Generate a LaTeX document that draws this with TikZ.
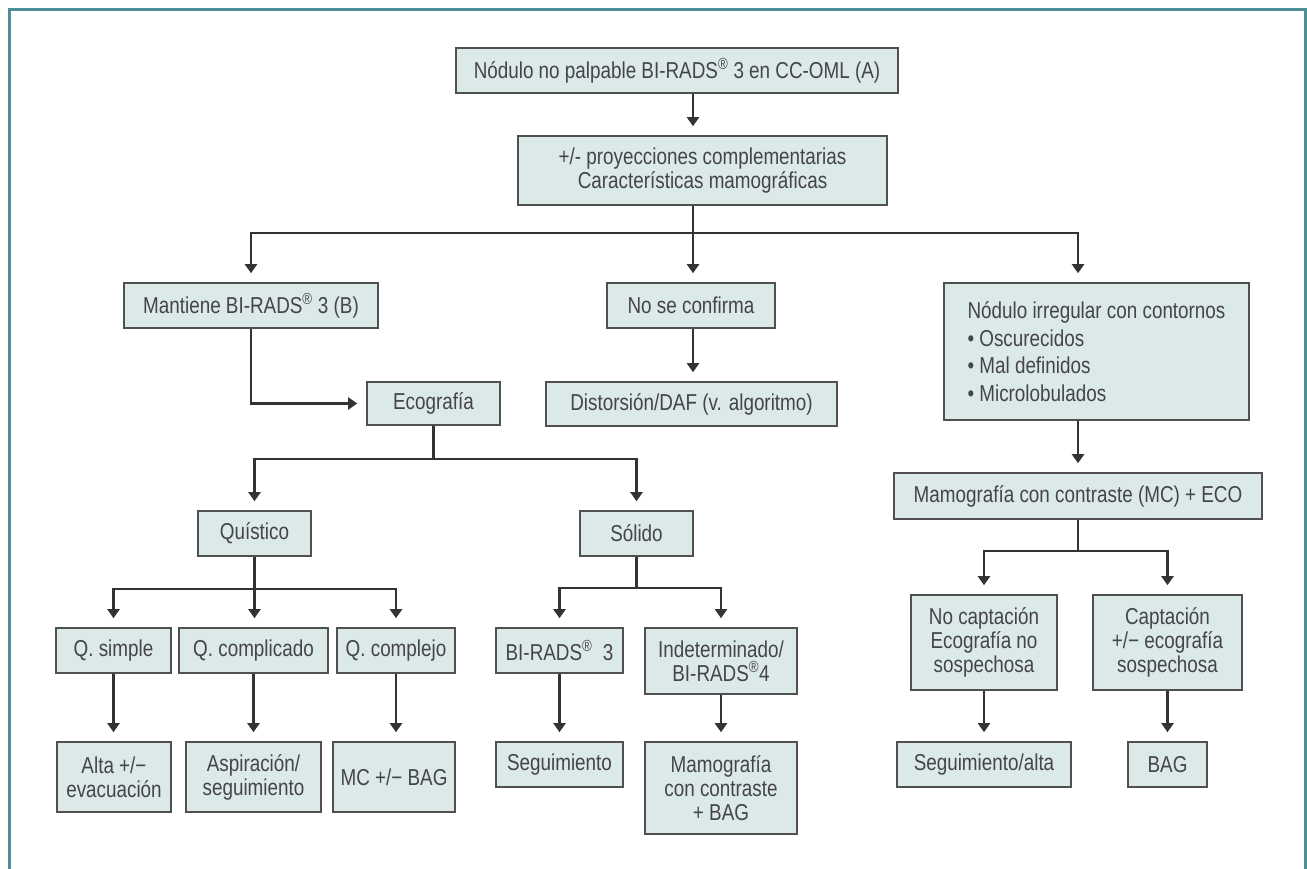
\documentclass[tikz,border=0pt]{standalone}
\usepackage{fontspec}
\setmainfont{Liberation Sans}[FakeStretch=0.82]
\usetikzlibrary{arrows.meta,calc}
\definecolor{boxfill}{HTML}{DCE9E9}
\definecolor{boxline}{HTML}{505050}
\definecolor{txt}{HTML}{454545}
\definecolor{conn}{HTML}{333333}
\definecolor{frame}{HTML}{4E8E98}
\tikzset{
  bx/.style={draw=boxline, line width=1.6pt, fill=boxfill, inner sep=0pt, align=center,
    text=txt, font=\fontsize{23}{24}\selectfont},
  ln/.style={draw=conn, line width=2.3pt},
  arr/.style={ln, -{Triangle[length=9pt,width=12pt]}, shorten >=9pt},
}
\newcommand{\reg}{\textsuperscript{®}}
\begin{document}
\begin{tikzpicture}[x=1pt,y=-1pt]
\useasboundingbox (0,0) rectangle (1307,869);
\fill[white] (0,0) rectangle (1307,869);
\draw[frame, line width=3pt] (9,869) -- (9,10) -- (1305,10) -- (1305,869);

\node[bx, minimum width=442pt, minimum height=45pt] (top) at (677,70.5) {Nódulo no palpable BI-RADS\reg\ 3 en CC-OML (A)};
\node[bx, minimum width=369pt, minimum height=69pt] (proj) at (702.5,170.5) {+/- proyecciones complementarias\\Características mamográficas};
\node[bx, minimum width=254pt, minimum height=45pt] (mant) at (251,305.5) {Mantiene BI-RADS\reg\ 3 (B)};
\node[bx, minimum width=168pt, minimum height=45pt] (noconf) at (691,305.5) {No se confirma};
\node[bx, minimum width=305pt, minimum height=137pt, align=left, font=\fontsize{23}{27.5}\selectfont] (irreg) at (1096.5,351.5) {Nódulo irregular con contornos\\• Oscurecidos\\• Mal definidos\\• Microlobulados};
\node[bx, minimum width=133pt, minimum height=43pt] (eco) at (433.5,403.5) {Ecografía};
\node[bx, minimum width=291pt, minimum height=44pt] (dist) at (691.5,404) {Distorsión/DAF (v. algoritmo)};
\node[bx, minimum width=368pt, minimum height=46pt] (mcc) at (1078,496) {Mamografía con contraste (MC) + ECO};
\node[bx, minimum width=113pt, minimum height=45pt] (quis) at (254.5,533.5) {Quístico};
\node[bx, minimum width=113pt, minimum height=45pt] (sol) at (636.5,533.5) {Sólido};
\node[bx, minimum width=146pt, minimum height=95pt] (nocap) at (984,642.5) {No captación\\Ecografía no\\sospechosa};
\node[bx, minimum width=149pt, minimum height=95pt] (cap) at (1167.5,642.5) {Captación\\+/− ecografía\\sospechosa};
\node[bx, minimum width=115pt, minimum height=45pt] (qs) at (113.5,650.5) {Q. simple};
\node[bx, minimum width=149pt, minimum height=45pt] (qcd) at (253.5,650.5) {Q. complicado};
\node[bx, minimum width=118pt, minimum height=45pt] (qcj) at (396,650.5) {Q. complejo};
\node[bx, minimum width=127pt, minimum height=45pt] (br3) at (559.5,650.5) {BI-RADS\reg\ \ 3};
\node[bx, minimum width=152pt, minimum height=66pt] (ind) at (721,661) {Indeterminado/\\BI-RADS\reg4};
\node[bx, minimum width=114pt, minimum height=70pt] (alta) at (114,777) {Alta +/−\\evacuación};
\node[bx, minimum width=135pt, minimum height=70pt] (asp) at (253.5,777) {Aspiración/\\seguimiento};
\node[bx, minimum width=122pt, minimum height=70pt] (mcbag) at (394,777) {MC +/− BAG};
\node[bx, minimum width=127pt, minimum height=45pt] (seg) at (559.5,764.5) {Seguimiento};
\node[bx, minimum width=152pt, minimum height=92pt] (mamo) at (721,788) {Mamografía\\con contraste\\+ BAG};
\node[bx, minimum width=174pt, minimum height=45pt] (segalta) at (984,764.5) {Seguimiento/alta};
\node[bx, minimum width=79pt, minimum height=45pt] (bag) at (1167.5,764.5) {BAG};

% junctions
\coordinate (j1) at ($(proj.south)+(-9.5,27)$);
\coordinate (j2) at ($(eco.south)+(0,33)$);
\coordinate (j3) at ($(quis.south)+(0,32)$);
\coordinate (j4) at ($(sol.south)+(0,31)$);
\coordinate (j5) at ($(mcc.south)+(0,31)$);

\draw[arr] ([xshift=16pt]top.south) -- ([xshift=16pt]top.south |- proj.north);
\draw[ln] (j1 |- proj.south) -- (j1);
\draw[arr] (j1) -| (mant.north);
\draw[arr] (j1) -- (j1 |- noconf.north);
\draw[arr] (j1) -| (mcc.north |- irreg.north);
\draw[arr] (mant.south) |- (eco.west);
\draw[arr] (noconf.south -| j1) -- (j1 |- dist.north);
\draw[arr] (mcc.north |- irreg.south) -- (mcc.north);

\draw[ln] (eco.south) -- (j2);
\draw[arr] (j2) -| (quis.north);
\draw[arr] (j2) -| (sol.north);

\draw[ln] (quis.south) -- (j3);
\draw[arr] (j3) -| (qs.north);
\draw[arr] (j3) -- (quis.south |- qcd.north);
\draw[arr] (j3) -| (qcj.north);
\draw[arr] (qs.south) -- (qs.south |- alta.north);
\draw[arr] (qcd.south) -- (qcd.south |- asp.north);
\draw[arr] (qcj.south) -- (qcj.south |- mcbag.north);

\draw[ln] (sol.south) -- (j4);
\draw[arr] (j4) -| (br3.north);
\draw[arr] (j4) -| (ind.north);
\draw[arr] (br3.south) -- (seg.north);
\draw[arr] (ind.south) -- (mamo.north);

\draw[ln] (mcc.south) -- (j5);
\draw[arr] (j5) -| (nocap.north);
\draw[arr] (j5) -| (cap.north);
\draw[arr] (nocap.south) -- (segalta.north);
\draw[arr] (cap.south) -- (bag.north);
\end{tikzpicture}
\end{document}
